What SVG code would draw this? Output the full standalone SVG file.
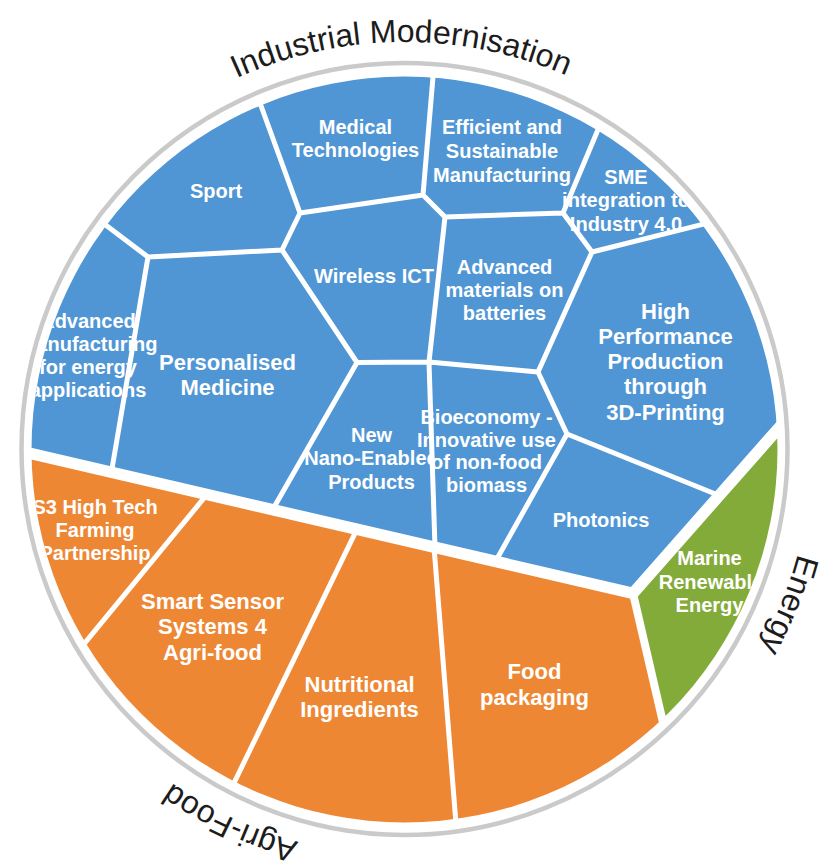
<svg xmlns="http://www.w3.org/2000/svg" width="820" height="866" viewBox="0 0 820 866">
<defs>
<style>
.bl{fill:#5096d4}
.or{fill:#ee8734}
.gr{fill:#83ab3a}
.t{font-family:"Liberation Sans",Arial,sans-serif;font-weight:bold;fill:#ffffff;text-anchor:middle}
.s{font-size:20px}
.L{font-size:22px}
.cat{font-family:"Liberation Sans",Arial,sans-serif;font-size:32px;fill:#1c1c1c;text-anchor:middle}
.e{stroke:#ffffff;stroke-width:5;fill:none}
.sep{stroke:#ffffff;stroke-width:11.5;fill:none}
.sg{stroke:#ffffff;stroke-width:8;fill:none}
</style>
<clipPath id="cc"><circle cx="404.5" cy="449.5" r="373"/></clipPath>
<clipPath id="ce"><circle cx="404.5" cy="449.5" r="377"/></clipPath>
<path id="arc" d="M -2.5,449 A 407 407 0 1 1 811.5,449 A 407 407 0 1 1 -2.5,449"/>
</defs>
<rect width="820" height="866" fill="#ffffff"/>
<ellipse cx="404.5" cy="449" rx="383" ry="386" fill="none" stroke="#cacaca" stroke-width="4.5"/>
<g clip-path="url(#cc)">
<g id="sport">
<polygon class="bl" points="148,257 282,250 300,213 196,-73 13,155"/>
<text class="t s" x="216" y="198">Sport</text>
</g>
<g id="medical">
<polygon class="bl" points="300,213 423,195 449,-112 196,-73"/>
<text class="t s"><tspan x="355.5" y="134">Medical</tspan><tspan x="355.5" y="157">Technologies</tspan></text>
</g>
<g id="efficient">
<polygon class="bl" points="423,195 445,217 563,213 665,-30 449,-112"/>
<text class="t s"><tspan x="502" y="134">Efficient and</tspan><tspan x="502" y="158">Sustainable</tspan><tspan x="502" y="182">Manufacturing</tspan></text>
</g>
<g id="wireless">
<polygon class="bl" points="300,213 282,250 357,362.5 429,362 445,217 423,195"/>
<text class="t s" x="374" y="283">Wireless ICT</text>
</g>
<g id="adv-materials">
<polygon class="bl" points="445,217 429,362 538,372 592,252 563,213"/>
<text class="t s"><tspan x="504.5" y="273.5">Advanced</tspan><tspan x="504.5" y="296.7">materials on</tspan><tspan x="504.5" y="320">batteries</tspan></text>
</g>
<g id="sme">
<polygon class="bl" points="563,213 592,252 862,184.5 800.5,53 665,-30"/>
<text class="t s"><tspan x="626" y="183.5">SME</tspan><tspan x="626" y="207">integration to</tspan><tspan x="626" y="230.5">Industry 4.0</tspan></text>
</g>
<g id="high-performance">
<polygon class="bl" points="592,252 538,372 567,434 718.5,495.2 919,269 862,184.5"/>
<text class="t L"><tspan x="665.5" y="318.5">High</tspan><tspan x="665.5" y="343.5">Performance</tspan><tspan x="665.5" y="369">Production</tspan><tspan x="665.5" y="394">through</tspan><tspan x="665.5" y="419.5">3D-Printing</tspan></text>
</g>
<g id="personalised">
<polygon class="bl" points="148,257 111.4,472.3 272.7,509.6 357,362.5 282,250"/>
<text class="t L"><tspan x="227.5" y="370">Personalised</tspan><tspan x="227.5" y="394.5">Medicine</tspan></text>
</g>
<g id="adv-manufacturing">
<polygon class="bl" points="148,257 13,155 8.5,53 -155.5,449 -100,423.2 111.4,472.3"/>
<text class="t s"><tspan x="88" y="328">Advanced</tspan><tspan x="88" y="351">manufacturing</tspan><tspan x="88" y="374">for energy</tspan><tspan x="88" y="397">applications</tspan></text>
</g>
<g id="nano">
<polygon class="bl" points="357,362.5 272.7,509.6 435,547.3 429,362"/>
<text class="t s"><tspan x="371.5" y="441.5">New</tspan><tspan x="371.5" y="465">Nano-Enabled</tspan><tspan x="371.5" y="488.5">Products</tspan></text>
</g>
<g id="bioeconomy">
<polygon class="bl" points="429,362 435,547.3 495.6,561.3 567,434 538,372"/>
<text class="t s"><tspan x="486.5" y="423.5">Bioeconomy -</tspan><tspan x="486.5" y="446.5">Innovative use</tspan><tspan x="486.5" y="469">of non-food</tspan><tspan x="486.5" y="491.5">biomass</tspan></text>
</g>
<g id="photonics">
<polygon class="bl" points="567,434 495.6,561.3 633,593.3 718.5,495.2"/>
<text class="t s" x="601" y="526.5">Photonics</text>
</g>
<g id="s3-farming">
<polygon class="or" points="-100,423.2 207,494.4 -41,796 -155.5,449"/>
<text class="t s"><tspan x="95" y="513.5">S3 High Tech</tspan><tspan x="95" y="537">Farming</tspan><tspan x="95" y="560">Partnership</tspan></text>
</g>
<g id="smart-sensor">
<polygon class="or" points="207,494.4 357,529.2 158.6,938.6 8.5,845 -41,796"/>
<text class="t L"><tspan x="212.5" y="608.5">Smart Sensor</tspan><tspan x="212.5" y="634">Systems 4</tspan><tspan x="212.5" y="659.5">Agri-food</tspan></text>
</g>
<g id="nutritional">
<polygon class="or" points="357,529.2 434,547 469,987 158.6,938.6"/>
<text class="t L"><tspan x="359.5" y="691.5">Nutritional</tspan><tspan x="359.5" y="716.5">Ingredients</tspan></text>
</g>
<g id="food-packaging">
<polygon class="or" points="434,547 633,593.3 691,843 469,987"/>
<text class="t L"><tspan x="534.5" y="678.5">Food</tspan><tspan x="534.5" y="704.5">packaging</tspan></text>
</g>
<g id="marine">
<polygon class="gr" points="633,593.3 919,269 964.5,449 800.5,845 691,843"/>
<text class="t s"><tspan x="709.5" y="565">Marine</tspan><tspan x="711" y="588.5">Renewable</tspan><tspan x="709.5" y="612">Energy</tspan></text>
</g>
</g>
<g id="connectors" clip-path="url(#ce)">
<path class="e" d="M148,257 L13,155 M148,257 L111.4,472.3 M148,257 L282,250 M282,250 L300,213 M300,213 L196,-73 M300,213 L423,195 M423,195 L449,-112 M423,195 L445,217 M445,217 L563,213 M563,213 L665,-30 M563,213 L592,252 M592,252 L862,184.5 M592,252 L538,372 M445,217 L429,362 M282,250 L357,362.5 M357,362.5 L429,362 M357,362.5 L272.7,509.6 M429,362 L435,547.3 M429,362 L538,372 M538,372 L567,434 M567,434 L495.6,561.3 M567,434 L718.5,495.2 M207,494.4 L-41,796 M357,529.2 L158.6,938.6 M434,547 L469,987"/>
<path class="sep" d="M-100,423.2 L633,593.3 L919,269"/>
<path class="sg" d="M633,593.3 L691,843"/>
</g>
<g id="categories">
<text class="cat"><textPath href="#arc" startOffset="635.8">Industrial Modernisation</textPath></text>
<text class="cat"><textPath href="#arc" startOffset="1434.9">Energy</textPath></text>
<text class="cat"><textPath href="#arc" startOffset="2094.8">Agri-Food</textPath></text>
</g>
</svg>
